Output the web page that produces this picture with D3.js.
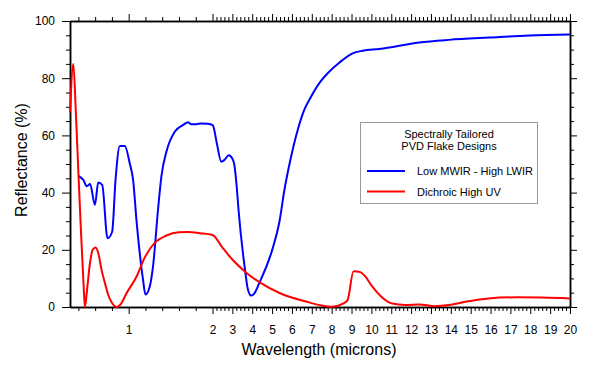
<!DOCTYPE html>
<meta charset="utf-8">
<style>
body { margin: 0; background: #fff; }
text { font-family: "Liberation Sans", Arial, sans-serif; }
.axis path, .axis line { stroke: #000; }
</style>
<svg width="595" height="367"></svg>
<script src="https://cdn.jsdelivr.net/npm/d3@7"></script>
<script>

// wavelength (microns) / reflectance (%)
var blueWave = [0.40, 0.46, 0.50, 0.54, 0.597, 0.637, 0.684, 0.748, 0.803, 0.843, 0.895, 0.954, 1.013, 1.053, 1.093,
  1.172, 1.20, 1.251, 1.29, 1.35, 1.39, 1.45, 1.549, 1.647, 1.707, 1.747, 1.806, 1.866, 1.944, 2.017, 2.22, 2.44,
  2.6, 2.82, 2.99, 3.1, 3.22, 3.31, 3.66, 3.77, 3.95, 4.11, 4.35, 5.03, 5.37, 5.62, 5.92, 6.29, 6.62, 6.96, 7.37,
  7.88, 8.38, 9.05, 9.56, 10.4, 12.41, 13.9, 15.93, 17.94, 20];
var blueRefl = [45.8, 44.4, 42.2, 43, 35.7, 43.5, 42.7, 24, 26.3, 44.4, 56.3, 56.3, 50.2, 44.4, 30.4,
  9.4, 4.4, 7.1, 14.1, 34, 45.6, 54.3, 61.3, 63.6, 64.6, 63.9, 63.9, 64.2, 64.1, 63.5, 57.2, 50.8,
  51.4, 53.1, 52, 49.7, 42, 34, 11.8, 6.5, 4, 4.8, 8.3, 20.5, 29.8, 40.9, 51.4, 61.9, 68.9, 73.5, 78.2,
  82.3, 85.4, 88.7, 89.6, 90.2, 92.5, 93.4, 94.2, 94.9, 95.3];

var redWave = [0.30, 0.34, 0.37, 0.40, 0.43, 0.46, 0.478, 0.50, 0.538, 0.57, 0.606, 0.64, 0.677, 0.72, 0.756,
  0.80, 0.855, 0.90, 0.974, 1.093, 1.19, 1.31, 1.45, 1.6, 1.706, 1.85, 2.0, 2.5, 3.0, 3.7, 4.4, 5.4, 6.7, 8.0,
  8.6, 8.8, 9.1, 9.45, 9.7, 10.05, 10.5, 11.05, 11.7, 12.4, 13.2, 14.0, 14.8, 15.9, 17.3, 18.6, 20];
var redRefl = [68, 85, 68, 47, 27, 9, 0, 5, 15.3, 20, 20.8, 18.5, 12.9, 8, 4.2,
  1.5, 0, 0.8, 4.8, 10.6, 17.2, 22.4, 25, 26.1, 26.2, 25.8, 25.2, 20.8, 16.6, 12, 8.5, 4.8, 1.9, 0.1,
  1.3, 2.4, 12.5, 12.2, 10.6, 7.1, 3.6, 1.2, 0.7, 0.9, 0.3, 0.8, 1.9, 3.0, 3.4, 3.3, 3.0];

var seriesNames = ["Low MWIR - High LWIR", "Dichroic High UV"];
var seriesColors = ["#0000ff", "#ff0000"];
var legendTitle = ["Spectrally Tailored", "PVD Flake Designs"];

var xMajor = [1, 2, 3, 4, 5, 6, 7, 8, 9, 10, 11, 12, 13, 14, 15, 16, 17, 18, 19, 20];
var yMajor = [0, 20, 40, 60, 80, 100];

var svg = d3.select("svg");
var plotL = 70, plotR = 570, plotT = 21, plotB = 307;

// stretched scale: 0.3-2 microns gets its own wide segment
var x = d3.scaleLinear().domain([0.3, 2, 20]).range([plotL, 212.5, plotR]);
var y = d3.scaleLinear().domain([0, 100]).range([plotB, plotT]);

var xMinor = d3.range(0.4, 1.99, 0.2).concat(d3.range(2.2, 19.99, 0.2))
  .filter(function(d) { return Math.abs(d - Math.round(d)) > 0.01; });
var yMinor = d3.range(0, 101, 5).filter(function(d) { return d % 20 !== 0; });

function styleAxis(g) {
  g.attr("class", "axis");
  g.select(".domain").attr("stroke-width", 1.5);
  g.selectAll(".tick line").attr("stroke-width", 1);
  g.selectAll("text").attr("font-size", 12).attr("fill", "#000")
    .attr("font-family", "'Liberation Sans', Arial, sans-serif");
}

// bottom
svg.append("g").attr("transform", "translate(0," + plotB + ")")
  .call(d3.axisBottom(x).tickValues(xMinor).tickSize(4).tickSizeOuter(0).tickFormat(""))
  .call(styleAxis);
svg.append("g").attr("transform", "translate(0," + plotB + ")")
  .call(d3.axisBottom(x).tickValues(xMajor).tickSize(7).tickSizeOuter(0).tickPadding(11).tickFormat(d3.format("d")))
  .call(styleAxis);
// top
svg.append("g").attr("transform", "translate(0," + plotT + ")")
  .call(d3.axisTop(x).tickValues(xMinor).tickSize(4).tickSizeOuter(0).tickFormat(""))
  .call(styleAxis);
svg.append("g").attr("transform", "translate(0," + plotT + ")")
  .call(d3.axisTop(x).tickValues(xMajor).tickSize(7).tickSizeOuter(0).tickFormat(""))
  .call(styleAxis);
// left
svg.append("g").attr("transform", "translate(" + plotL + ",0)")
  .call(d3.axisLeft(y).tickValues(yMinor).tickSize(4).tickSizeOuter(0).tickFormat(""))
  .call(styleAxis);
svg.append("g").attr("transform", "translate(" + plotL + ",0)")
  .call(d3.axisLeft(y).tickValues(yMajor).tickSize(8).tickSizeOuter(0).tickPadding(7))
  .call(styleAxis);
// right
svg.append("g").attr("transform", "translate(" + plotR + ",0)")
  .call(d3.axisRight(y).tickValues(yMinor).tickSize(4).tickSizeOuter(0).tickFormat(""))
  .call(styleAxis);
svg.append("g").attr("transform", "translate(" + plotR + ",0)")
  .call(d3.axisRight(y).tickValues(yMajor).tickSize(7).tickSizeOuter(0).tickFormat(""))
  .call(styleAxis);

svg.append("text")
  .attr("x", 319).attr("y", 355)
  .attr("text-anchor", "middle")
  .attr("font-size", 16)
  .text("Wavelength (microns)");

svg.append("text")
  .attr("transform", "translate(27,160) rotate(-90)")
  .attr("text-anchor", "middle")
  .attr("font-size", 16)
  .text("Reflectance (%)");

var line = d3.line()
  .x(function(d) { return x(d[0]); })
  .y(function(d) { return y(d[1]); })
  .curve(d3.curveMonotoneX);

var series = [d3.zip(blueWave, blueRefl), d3.zip(redWave, redRefl)];

svg.append("g").selectAll("path")
  .data(series)
  .enter().append("path")
    .attr("fill", "none")
    .attr("stroke", function(d, i) { return seriesColors[i]; })
    .attr("stroke-width", 2)
    .attr("stroke-linejoin", "round")
    .attr("d", line);

// legend
var legend = svg.append("g");
legend.append("rect")
  .attr("x", 360.5).attr("y", 122.5)
  .attr("width", 177).attr("height", 81)
  .attr("fill", "#fff")
  .attr("stroke", "#999");

legend.selectAll(".title")
  .data(legendTitle)
  .enter().append("text")
    .attr("class", "title")
    .attr("x", 449)
    .attr("y", function(d, i) { return 138 + i * 12; })
    .attr("text-anchor", "middle")
    .attr("font-size", 11)
    .text(function(d) { return d; });

var entry = legend.selectAll(".entry")
  .data(seriesNames)
  .enter().append("g")
    .attr("class", "entry")
    .attr("transform", function(d, i) { return "translate(0," + (171 + i * 20.5) + ")"; });

entry.append("line")
  .attr("x1", 367).attr("x2", 405)
  .attr("stroke", function(d, i) { return seriesColors[i]; })
  .attr("stroke-width", 2);

entry.append("text")
  .attr("x", 417).attr("y", 4)
  .attr("font-size", 11)
  .text(function(d) { return d; });

</script>
